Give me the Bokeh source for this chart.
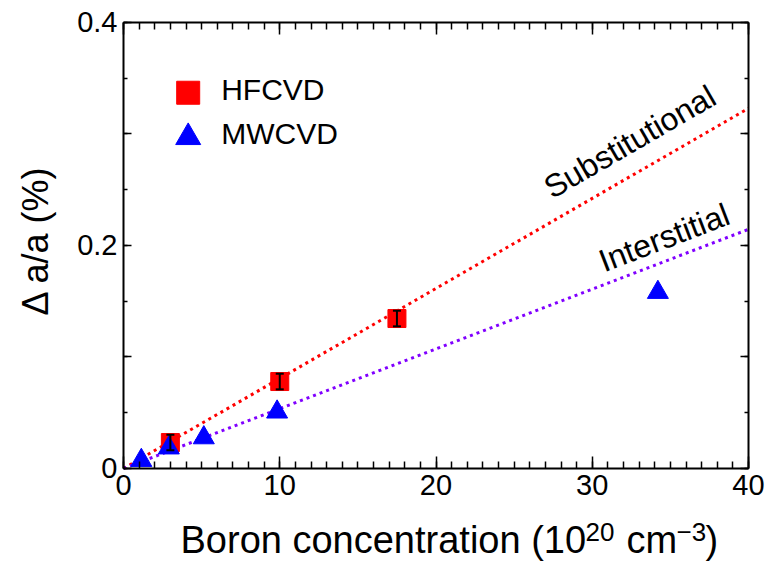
import math
from bokeh.plotting import figure
from bokeh.models import Range1d, LinearAxis, FixedTicker, Whisker, ColumnDataSource, TeeHead, Label
from bokeh.embed import file_html
from bokeh.resources import INLINE
from bokeh.core.properties import value

# ---- data ----
hf_x = [3.0, 10.0, 17.5]
hf_y = [0.0233, 0.078, 0.1345]
hf_err = [0.007, 0.007, 0.007]

mw_x = [1.14, 2.9, 5.14, 9.83, 34.2]
mw_y = [0.0073, 0.0185, 0.0276, 0.0507, 0.158]

sub_x = [0, 40]
sub_y = [0, 0.323]
int_x = [0, 40]
int_y = [0, 0.2145]

ann_text = ["Substitutional", "Interstitial"]
ann_x = [32.4, 34.6]
ann_y = [0.293, 0.207]
ann_angle_deg = [30.1, 21.0]

legend_labels = ["HFCVD", "MWCVD"]
legend_mark_x = [4.14, 4.14]
legend_mark_y = [0.337, 0.297]
legend_text_x = [6.25, 6.25]
legend_text_y = [0.3401, 0.3006]

x_ticks = [0, 10, 20, 30, 40]
x_minor = [0, 1, 2, 3, 4, 5, 6, 7, 8, 9, 10, 11, 12, 13, 14, 15, 16, 17, 18, 19, 20,
           21, 22, 23, 24, 25, 26, 27, 28, 29, 30, 31, 32, 33, 34, 35, 36, 37, 38, 39, 40]
y_ticks = [0, 0.1, 0.2, 0.3, 0.4]
y_tick_labels = ["0", "", "0.2", "", "0.4"]
y_minor = [0, 0.05, 0.1, 0.15, 0.2, 0.25, 0.3, 0.35, 0.4]

x_lim = (0, 40)
y_lim = (0, 0.4)

# axis titles (x title split so the exponents are true superscripts)
xlabel_parts = ["Boron concentration (10", "20", "cm", "\u22123", ")"]
xlabel_sup = [False, True, False, True, False]
xlabel_x = [3.648, 29.568, 32.19, 35.39, 37.25]
ylabel_text = "\u0394 a/a (%)"

FONT = "Liberation Sans"

# The frame covers the whole canvas; the data box (0..40, 0..0.4) sits at
# pixels x 123..748, y 22..468 of the 766x565 page.
p = figure(width=766, height=565,
           x_range=Range1d(-7.872, 41.152), y_range=Range1d(-0.0870, 0.41973),
           output_backend="svg", toolbar_location=None,
           min_border_left=0, min_border_right=0,
           min_border_top=0, min_border_bottom=0)
if p.title is not None:
    p.title.visible = False
p.xgrid.visible = False
p.ygrid.visible = False
p.outline_line_color = None
p.background_fill_color = "white"
p.border_fill_color = "white"

def style_axis(ax, ticker, major_len, minor_len, bounds, loc):
    ax.ticker = ticker
    ax.bounds = bounds
    ax.fixed_location = loc
    ax.axis_line_color = "black"
    ax.axis_line_width = 2
    ax.major_tick_in = major_len
    ax.major_tick_out = 0
    ax.minor_tick_in = minor_len
    ax.minor_tick_out = 0
    ax.major_tick_line_width = 1.5
    ax.minor_tick_line_width = 1.5
    ax.major_tick_line_color = "black"
    ax.minor_tick_line_color = "black"
    ax.major_label_text_font = FONT
    ax.major_label_text_font_size = "29px"
    ax.major_label_text_color = "black"
    ax.axis_label = None

xa = p.xaxis[0]
style_axis(xa, FixedTicker(ticks=x_ticks, minor_ticks=x_minor), 12, 7, x_lim, y_lim[0])
xa.major_label_overrides = {t: str(t) for t in x_ticks}
xa.major_label_standoff = 7

ya = p.yaxis[0]
style_axis(ya, FixedTicker(ticks=y_ticks, minor_ticks=y_minor), 8, 4, y_lim, x_lim[0])
ya.major_label_overrides = {t: l for t, l in zip(y_ticks, y_tick_labels)}
ya.major_label_standoff = 6

top = LinearAxis()
style_axis(top, FixedTicker(ticks=x_ticks, minor_ticks=x_minor), 12, 7, x_lim, y_lim[1])
top.major_label_overrides = {t: "" for t in x_ticks}
top.major_label_text_font_size = "0px"
top.major_label_standoff = 0
p.add_layout(top, "above")

right = LinearAxis()
style_axis(right, FixedTicker(ticks=y_ticks, minor_ticks=y_minor), 8, 4, y_lim, x_lim[1])
right.major_label_overrides = {t: "" for t in y_ticks}
right.major_label_text_font_size = "0px"
right.major_label_standoff = 0
p.add_layout(right, "right")

# axis titles
for t, sup, x in zip(xlabel_parts, xlabel_sup, xlabel_x):
    p.add_layout(Label(x=x, y=(-0.0573 if sup else -0.0641),
                       text=t, text_font=FONT, text_font_size=("26px" if sup else "38px"),
                       text_color="black", text_align="left", text_baseline="alphabetic"))
p.add_layout(Label(x=-5.64, y=0.2045, text=ylabel_text, angle=math.pi / 2,
                   text_font=FONT, text_font_size="36px", text_color="black",
                   text_align="center", text_baseline="alphabetic"))

# fit lines
p.line(sub_x, sub_y, line_color="#ff0000", line_width=3, line_dash="3 4")
p.line(int_x, int_y, line_color="#8000ff", line_width=3, line_dash="3 4")

# data
p.scatter(hf_x, hf_y, marker="square", size=18, fill_color="#ff0000", line_color="#ff0000")
p.scatter(mw_x, mw_y, marker="triangle", size=21, fill_color="#0000ff", line_color="#0000ff")

src = ColumnDataSource(data=dict(x=hf_x,
                                 lower=[y - e for y, e in zip(hf_y, hf_err)],
                                 upper=[y + e for y, e in zip(hf_y, hf_err)]))
w = Whisker(source=src, base="x", lower="lower", upper="upper",
            line_color="black", line_width=2, level="overlay",
            upper_head=TeeHead(size=8, line_color="black", line_width=2),
            lower_head=TeeHead(size=8, line_color="black", line_width=2))
p.add_layout(w)

# annotations along the lines
for t, x, y, a in zip(ann_text, ann_x, ann_y, ann_angle_deg):
    p.text([x], [y], text=[t], angle=math.radians(a),
           text_align="center", text_baseline="alphabetic",
           text_font=value(FONT), text_font_size="32px", text_color="black")

# legend
p.scatter([legend_mark_x[0]], [legend_mark_y[0]], marker="square", size=23,
          fill_color="#ff0000", line_color="#ff0000")
p.scatter([legend_mark_x[1]], [legend_mark_y[1]], marker="triangle", size=25,
          fill_color="#0000ff", line_color="#0000ff")
p.text(legend_text_x, legend_text_y, text=legend_labels,
       text_align="left", text_baseline="alphabetic",
       text_font=value(FONT), text_font_size="30px", text_color="black")

open("out.html", "w").write(file_html(p, INLINE))
